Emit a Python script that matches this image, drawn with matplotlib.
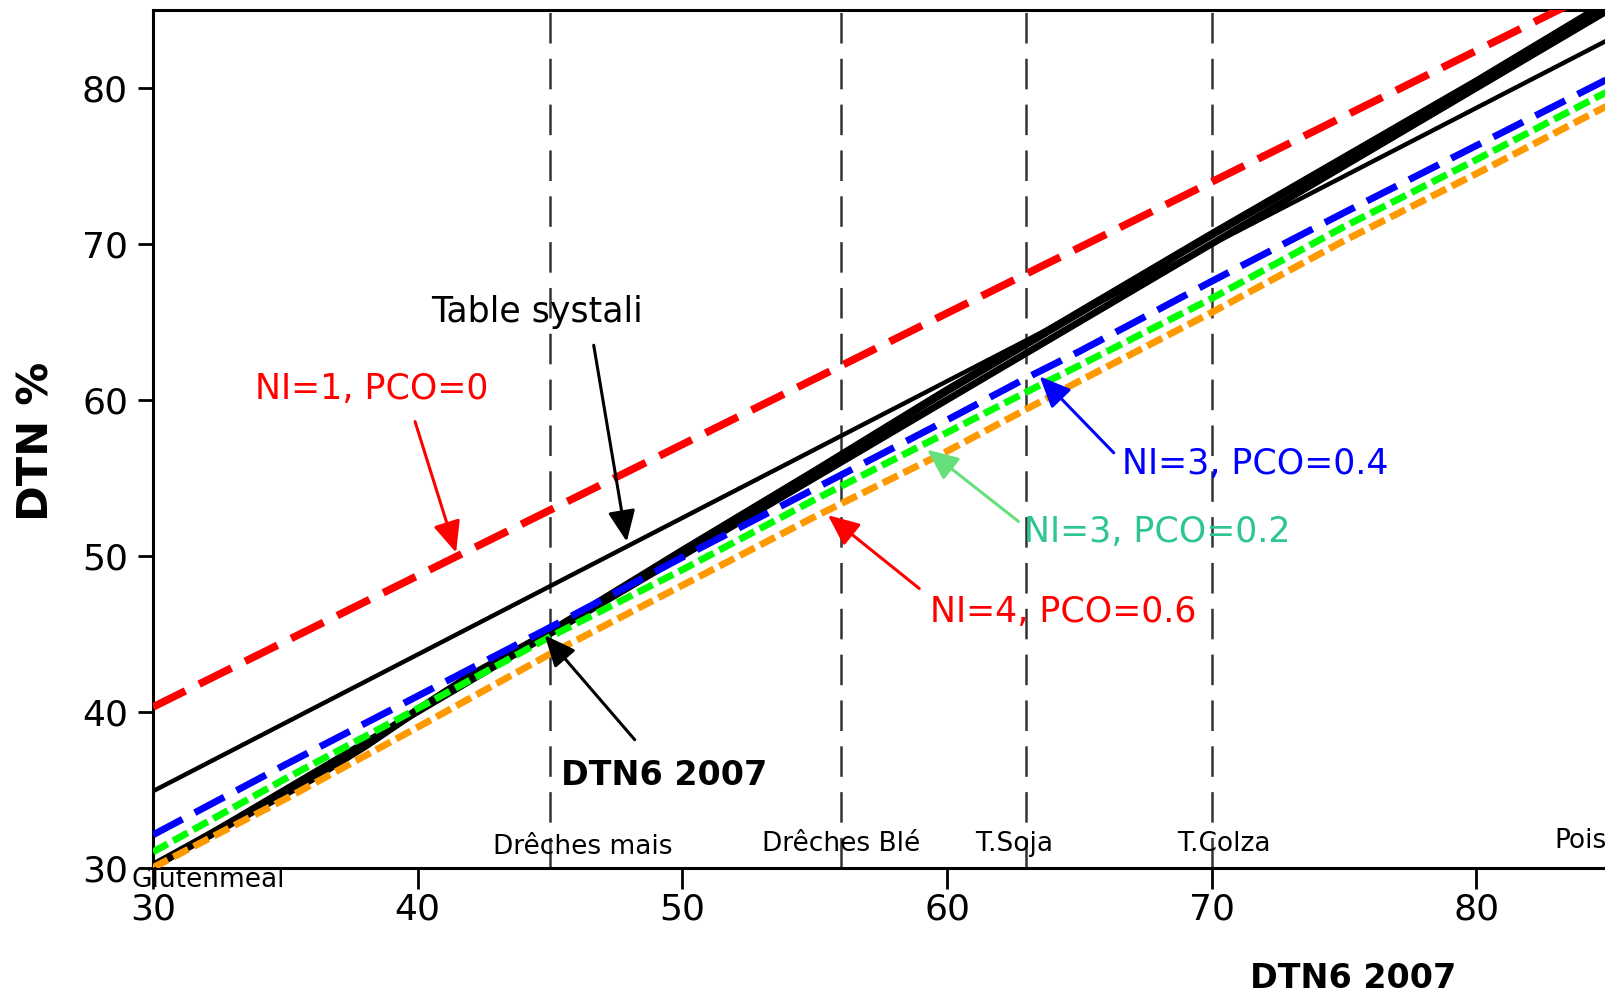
import matplotlib
matplotlib.use('Agg')
import matplotlib.pyplot as plt
import numpy as np

plt.rcParams['font.family'] = ['DejaVu Sans']
plt.rcParams['lines.scale_dashes'] = False

# Données
x_pts = [30, 35, 40, 45, 50, 55, 60, 63, 65, 70, 75, 80, 85]
ni3_pco04 = [32.1, 36.6, 41.0, 45.4, 49.9, 54.3, 58.7, 61.4, 63.1, 67.6, 72.0, 76.3, 80.6]
ni3_pco02 = [31.0, 35.7, 40.2, 44.8, 49.1, 53.6, 57.9, 60.5, 62.2, 66.5, 71.1, 75.4, 79.8]
ni4_pco06 = [30.0, 34.4, 39.0, 43.7, 48.1, 52.5, 56.7, 59.4, 61.2, 65.6, 70.2, 74.5, 78.9]

dtn6_x = [30, 33, 36, 38, 40, 42, 45, 50, 55, 60, 65, 70, 75, 80, 85]
dtn6_y = [30.1, 32.9, 35.7, 37.8, 40.1, 42.3, 45.1, 50.3, 55.4, 60.6, 65.6, 70.6, 75.5, 80.4, 85.5]

one_to_one = [30, 85]

systali_x = [30, 85]
systali_y = [34.9, 83.1]

ni1_pco0_x = [30, 85]
ni1_pco0_y = [40.3, 86.6]

aliments = ['Glutenmeal', 'Drêches mais', 'Drêches Blé', 'T.Soja', 'T.Colza', 'Pois']
aliments_x = [30, 45, 56, 63, 70, 85]
label_x = [29.2, 42.85, 53.0, 61.05, 68.7, 82.95]
label_y = [29.2, 31.3, 31.5, 31.5, 31.5, 31.7]

fig = plt.figure(figsize=(16.06, 9.98), dpi=100)
ax = fig.add_axes([0.0953, 0.1307, 0.9047, 0.8593])

# lignes verticales des aliments
for xv in aliments_x[1:5]:
    ax.axvline(xv, color='#333333', linewidth=1.8, dashes=(22, 11), zorder=1)

ax.plot(systali_x, systali_y, color='black', linewidth=3.2, solid_capstyle='butt', zorder=3)
ax.plot(one_to_one, one_to_one, color='black', linewidth=5.0, zorder=3)
ax.plot(dtn6_x, dtn6_y, color='black', linewidth=6.0, zorder=3)
ax.plot(ni1_pco0_x, ni1_pco0_y, color='#FF0000', linewidth=5.5, dashes=(26, 11), zorder=4)
ax.plot(x_pts, ni3_pco04, color='#0000FF', linewidth=5.0, dashes=(24, 10), zorder=4)
ax.plot(x_pts, ni3_pco02, color='#00FF00', linewidth=5.0, dashes=(12, 4.5), zorder=5)
ax.plot(x_pts, ni4_pco06, color='#FF9900', linewidth=5.0, dashes=(12, 4.5), zorder=6)

for name, lx, ly in zip(aliments, label_x, label_y):
    ax.text(lx, ly, name, fontsize=19, ha='left', va='center', clip_on=False, zorder=7)

# Annotations
def fleche(tail, tip, color):
    ax.annotate('', xy=tip, xytext=tail,
                arrowprops=dict(arrowstyle='-|>,head_length=0.5,head_width=0.22',
                                color=color, lw=2.2,
                                mutation_scale=38, shrinkA=0, shrinkB=0),
                zorder=8)

ax.text(40.5, 65.6, 'Table systali', fontsize=25, color='black', ha='left', va='center')
fleche((46.65, 63.5), (47.9, 50.9), 'black')

ax.text(33.85, 60.7, 'NI=1, PCO=0', fontsize=25, color='#FF0000', ha='left', va='center')
fleche((39.9, 58.6), (41.45, 50.2), '#FF0000')

ax.text(45.4, 35.9, 'DTN6 2007', fontsize=24, fontweight='bold', color='black',
        ha='left', va='center')
fleche((48.2, 38.2), (44.8, 44.9), 'black')

ax.text(66.6, 55.9, 'NI=3, PCO=0.4', fontsize=25, color='#0000FF', ha='left', va='center')
fleche((66.3, 56.6), (63.5, 61.5), '#0000FF')

ax.text(62.9, 51.5, 'NI=3, PCO=0.2', fontsize=25, color='#2EC596', ha='left', va='center')
fleche((62.7, 52.2), (59.25, 56.8), '#66E07A')

ax.text(59.35, 46.4, 'NI=4, PCO=0.6', fontsize=25, color='#FF0000', ha='left', va='center')
fleche((58.95, 47.9), (55.5, 52.6), '#FF0000')

ax.set_xlim(30, 84.9)
ax.set_ylim(30, 85)
ax.set_xticks([30, 40, 50, 60, 70, 80])
ax.set_yticks([30, 40, 50, 60, 70, 80])
ax.tick_params(axis='both', labelsize=26, width=2, length=11, direction='out')
ax.tick_params(axis='x', pad=3, length=15)
ax.tick_params(axis='y', pad=7)
for side in ['left', 'bottom', 'top']:
    ax.spines[side].set_linewidth(2.2)
ax.spines['right'].set_visible(False)

fig.text(0.8425, 0.0195, 'DTN6 2007', fontsize=24, fontweight='bold',
         ha='center', va='center')
fig.text(0.0225, 0.558, 'DTN %', fontsize=31, fontweight='bold',
         rotation=90, ha='center', va='center')

fig.savefig('out.png', dpi=100)
